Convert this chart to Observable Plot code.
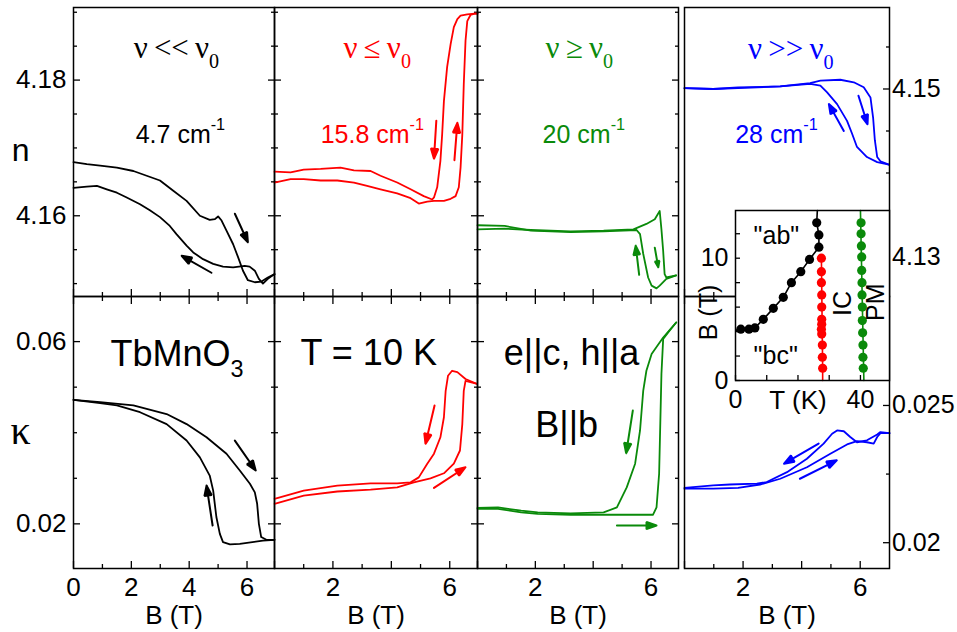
<!DOCTYPE html>
<html><head><meta charset="utf-8">
<script src="https://cdn.jsdelivr.net/npm/d3@7"></script>
<script src="https://cdn.jsdelivr.net/npm/@observablehq/plot@0.6"></script>
<style>
body{margin:0;background:#fff;}
#fig{position:relative;width:957px;height:632px;overflow:hidden;background:#fff;font-family:"Liberation Sans",Arial,sans-serif;}
#fig svg{position:absolute;}
</style></head><body><div id="fig"></div>
<script>
// ---------------- DATA ----------------
// Top row: refractive index n vs B (T); bottom row: extinction kappa vs B (T)
const nBlackUp = [[0,4.1679],[0.46,4.1676],[0.92,4.1674],[1.5,4.1671],[2.07,4.1666],[2.53,4.1659],[2.99,4.1652],[3.45,4.1637],[3.91,4.1622],[4.37,4.16],[4.71,4.1594],[4.89,4.1595],[5.0,4.1599],[5.12,4.1593],[5.29,4.1578],[5.52,4.1558],[5.69,4.1539],[5.86,4.1519],[6.03,4.1505],[6.27,4.1502],[6.5,4.1503],[6.72,4.1509],[6.95,4.1514]];
const nBlackDown = [[0,4.1641],[0.46,4.1643],[0.81,4.1644],[1.15,4.1639],[1.5,4.1634],[1.84,4.1627],[2.3,4.1617],[2.64,4.1608],[2.99,4.1598],[3.33,4.1585],[3.56,4.1573],[3.91,4.1556],[4.14,4.1546],[4.48,4.1536],[4.83,4.1529],[5.17,4.1525],[5.52,4.1524],[5.92,4.1526],[6.09,4.1525],[6.27,4.1519],[6.41,4.1507],[6.55,4.15],[6.72,4.1507],[6.95,4.1514]];
const nRedUp = [[0,4.1649],[0.55,4.1654],[1.0,4.1654],[1.58,4.1652],[2.15,4.1652],[2.72,4.1649],[3.17,4.1644],[3.63,4.1639],[4.2,4.1633],[4.66,4.1626],[4.94,4.1618],[5.23,4.1621],[5.46,4.1622],[5.8,4.1622],[6.03,4.1625],[6.2,4.1629],[6.31,4.1642],[6.37,4.1671],[6.43,4.172],[6.48,4.1794],[6.54,4.1858],[6.6,4.1887],[6.71,4.1896],[6.85,4.1898],[6.95,4.1898]];
const nRedDown = [[6.95,4.1898],[6.85,4.1898],[6.6,4.1897],[6.37,4.1895],[6.26,4.189],[6.14,4.1878],[6.03,4.1853],[5.91,4.1819],[5.8,4.1769],[5.74,4.172],[5.68,4.1681],[5.57,4.1642],[5.46,4.1627],[5.4,4.1624],[5.11,4.1629],[4.66,4.1639],[4.2,4.1649],[3.63,4.1659],[3.29,4.1666],[2.72,4.1667],[2.26,4.1671],[1.58,4.1669],[1.0,4.1668],[0.55,4.1664],[0,4.1665]];
const nGreenUp = [[0,4.158],[0.94,4.1581],[1.85,4.1579],[3.22,4.1577],[4.36,4.1578],[5.39,4.158],[5.84,4.1588],[6.13,4.1595],[6.3,4.1607],[6.36,4.158],[6.42,4.1548],[6.47,4.1514],[6.53,4.1509],[6.87,4.1512]];
const nGreenDown = [[6.87,4.1512],[6.53,4.1507],[6.3,4.1497],[6.19,4.1493],[6.02,4.1497],[5.9,4.1509],[5.73,4.1544],[5.62,4.1573],[5.5,4.1579],[4.36,4.1577],[3.22,4.1576],[1.85,4.1578],[0.94,4.1585],[0,4.1586]];
const nBlueUp = [[0,4.1501],[0.98,4.15],[1.83,4.1502],[3.27,4.1503],[4.29,4.1507],[4.64,4.151],[5.32,4.1511],[5.78,4.1508],[6.12,4.1502],[6.35,4.149],[6.44,4.1466],[6.5,4.1439],[6.58,4.1419],[6.69,4.1414],[6.98,4.141]];
const nBlueDown = [[6.98,4.141],[6.58,4.1413],[6.23,4.1419],[5.89,4.1431],[5.72,4.1447],[5.55,4.1462],[5.21,4.1482],[4.87,4.1496],[4.64,4.1504],[4.29,4.1506],[3.27,4.1503],[1.83,4.1501],[0.98,4.15],[0,4.1501]];

const kBlackUp = [[0,0.0472],[0.92,0.0467],[2.07,0.046],[3.22,0.0441],[3.91,0.0419],[4.6,0.039],[5.29,0.0354],[5.75,0.0317],[6.1,0.0288],[6.27,0.0269],[6.35,0.0244],[6.41,0.02],[6.49,0.0171],[6.67,0.0165],[6.95,0.0165]];
const kBlackDown = [[6.95,0.0165],[6.55,0.0163],[5.75,0.0156],[5.41,0.0155],[5.17,0.016],[5.06,0.0178],[4.94,0.0215],[4.83,0.0273],[4.71,0.0306],[4.37,0.0346],[3.91,0.0383],[3.22,0.0419],[2.3,0.0445],[1.5,0.046],[0.92,0.0465],[0,0.0472]];
const kRedUp = [[0,0.0244],[1.0,0.0262],[2.15,0.0271],[3.29,0.0275],[4.2,0.028],[4.77,0.0291],[5.34,0.03],[5.8,0.0311],[6.14,0.0332],[6.35,0.0361],[6.43,0.0419],[6.48,0.0492],[6.54,0.0514],[6.94,0.0507]];
const kRedDown = [[6.94,0.0507],[6.54,0.0518],[6.26,0.0533],[6.08,0.0536],[5.94,0.0525],[5.86,0.0492],[5.8,0.0434],[5.68,0.039],[5.46,0.0354],[5.23,0.0332],[4.94,0.0302],[4.66,0.0291],[4.2,0.0289],[3.29,0.0289],[2.15,0.0284],[1.0,0.0273],[0,0.0255]];
const kGreenUp = [[0,0.0233],[0.71,0.0233],[1.51,0.0225],[2.08,0.0222],[3.22,0.022],[4.36,0.022],[5.5,0.022],[6.07,0.022],[6.19,0.0236],[6.28,0.031],[6.32,0.0419],[6.36,0.0529],[6.42,0.0606],[6.64,0.0624],[6.87,0.0642]];
const kGreenDown = [[6.87,0.0642],[6.42,0.0609],[6.02,0.0573],[5.84,0.0536],[5.73,0.0492],[5.62,0.0405],[5.45,0.0332],[5.16,0.028],[4.82,0.0236],[4.36,0.0225],[3.22,0.0223],[2.08,0.0225],[1.51,0.0229],[0.71,0.0236],[0,0.0235]];
const kBlueDown = [[7.0,0.02399],[6.69,0.02403],[6.58,0.02394],[6.23,0.02373],[5.89,0.02366],[5.66,0.02385],[5.44,0.02406],[5.21,0.02409],[5.04,0.02397],[4.75,0.02361],[4.18,0.02306],[3.5,0.02257],[2.81,0.02221],[2.47,0.02215],[1.55,0.02212],[0.98,0.02209],[0,0.022]];
const kBlueUp = [[0,0.02197],[0.98,0.02197],[1.83,0.022],[2.58,0.02212],[3.27,0.02233],[4.18,0.02275],[4.98,0.02324],[5.55,0.02358],[5.89,0.0237],[6.23,0.02366],[6.46,0.02361],[6.58,0.02385],[6.69,0.02399],[7.0,0.02399]];

// sweep-direction arrows [B1, v1, B2, v2]
const arrowsNBlack = [[5.58,4.1603,6.03,4.1561],[4.77,4.1516,3.74,4.1541]];
const arrowsNRed = [[5.54,4.174,5.46,4.1684],[6.16,4.1682,6.26,4.1737]];
const arrowsNGreen = [[5.59,4.1513,5.47,4.1556],[6.13,4.1553,6.25,4.1524]];
const arrowsNBlue = [[5.44,4.145,4.93,4.1482],[5.94,4.1492,6.25,4.1458]];
const arrowsKBlack = [[5.58,0.03828,6.3,0.0317],[4.81,0.01964,4.6,0.0284]];
const arrowsKRed = [[5.48,0.04596,5.17,0.03756],[5.46,0.0279,6.54,0.03243]];
const arrowsKGreen = [[5.37,0.04486,5.14,0.0355],[4.82,0.01963,6.19,0.01963]];
const arrowsKBlue = [[4.58,0.02361,3.4,0.02288],[3.94,0.02233,5.2,0.023]];

// inset phase diagram (T in K, B in T)
const phaseBlackT = [1.7,4.3,6.2,8.9,12.1,15.3,17.9,20.9,23.7,26.7,26.7,26.0];
const phaseBlackB = [4.2,4.2,4.3,5.0,5.9,6.8,8.0,8.9,9.9,10.9,11.9,12.9];
const phaseBlackLineT = [0.3,1.7,4.3,6.2,8.9,12.1,15.3,17.9,20.9,23.7,26.7,26.7,26.0,26.2];
const phaseBlackLineB = [4.1,4.2,4.2,4.3,5.0,5.9,6.8,8.0,8.9,9.9,10.9,11.9,12.9,13.9];
const phaseRedT = [27.9,27.8,27.8,27.6,27.5,27.6,27.6,27.6,27.6,27.5,27.5,27.5];
const phaseRedB = [1.0,1.9,2.9,3.8,4.2,4.6,5.0,6.0,7.0,8.0,8.9,10.0];
const phaseRedLineT = [27.9,27.9,27.5];
const phaseRedLineB = [0,1.0,10.0];
const phaseGreenT = [40.9,40.8,40.8,40.7,40.6,40.6,40.5,40.5,40.4,40.4,40.3,40.2,40.2];
const phaseGreenB = [1.0,1.9,2.9,3.9,4.9,6.0,7.0,8.0,9.0,10.1,11.0,12.0,12.9];
const phaseGreenLineT = [41.1,40.0];
const phaseGreenLineB = [0,13.9];

// tick values & labels
const bTicksMajor = [0,2,4,6], bTicksMinor = [1,3,5];
const bLabelsFirst = [0,2,4,6], bLabelsOther = [2,6];
const nTicksMajor = [4.16,4.18], nTicksMinor = [4.15,4.155,4.165,4.17,4.175,4.185,4.19];
const n4TicksMajor = [4.13,4.15], n4TicksMinor = [4.135,4.14,4.145,4.155];
const kTicksMajor = [0.02,0.06], kTicksMinor = [0.03,0.04,0.05];
const k4TicksMajor = [0.02,0.025], k4TicksMinor = [0.0225,0.0275];
const insetTTicks = [0,10,20,30,40], insetTLabels = [0,40];
const insetBTicks = [0,2,4,6,8,10,12], insetBLabels = [0,10];

const freqLabels = ["ν\u2009<<\u2009ν_0", "ν\u2009≤\u2009ν_0", "ν\u2009≥\u2009ν_0", "ν\u2009>>\u2009ν_0"];
const waveLabels = ["4.7 cm^-1", "15.8 cm^-1", "20 cm^-1", "28 cm^-1"];
const sampleLabels = ["TbMnO_3", "T = 10 K", "e||c, h||a", "B||b"];
const phaseLabels = ['"ab"', '"bc"', "IC", "PM"];

// ---------------- RENDER ----------------
const SANS = '"Liberation Sans", Arial, sans-serif';
const SERIF = '"Liberation Serif", "Times New Roman", serif';
const RED = "#ff0000", GREEN = "#0a8a0a", BLUE = "#0000ff", BLACK = "#000000";
const fig = document.getElementById("fig");

const cols = [
  {x: 73, w: 201, xd: [0, 6.95], lab: bLabelsFirst},
  {x: 274, w: 203, xd: [0, 6.95], lab: bLabelsOther},
  {x: 477, w: 201, xd: [0, 6.95], lab: bLabelsOther},
  {x: 684, w: 205, xd: [0, 7.0], lab: bLabelsOther}
];
const rows = [{y: 7, h: 289}, {y: 296, h: 272}];
const fmt = d => String(d);
const TICKFONT = 26;

function richify(svg) {
  svg.querySelectorAll("text").forEach(t => {
    const s = t.textContent;
    if (!/[_^]/.test(s)) return;
    while (t.firstChild) t.removeChild(t.firstChild);
    const parts = s.split(/([_^][^_^\s]+)/).filter(Boolean);
    let prev = 0;
    for (const p of parts) {
      const ts = document.createElementNS("http://www.w3.org/2000/svg", "tspan");
      if (p[0] === "^" || p[0] === "_") {
        const shift = p[0] === "^" ? -0.5 : 0.32;
        ts.setAttribute("font-size", "65%");
        ts.setAttribute("dy", ((shift - prev) / 0.65).toFixed(3) + "em");
        prev = shift;
        ts.textContent = p.slice(1);
      } else {
        if (prev !== 0) ts.setAttribute("dy", (-prev).toFixed(3) + "em");
        prev = 0;
        ts.textContent = p;
      }
      t.appendChild(ts);
    }
  });
}
// turn the open arrow heads of Plot.arrow into filled triangles
function fillArrowHeads(svg) {
  svg.querySelectorAll('g[aria-label="arrow"]').forEach(g => {
    const col = g.getAttribute("stroke");
    g.querySelectorAll("path").forEach(p => {
      p.setAttribute("d", p.getAttribute("d") + "Z");
      p.setAttribute("fill", p.getAttribute("stroke") || col);
      p.setAttribute("stroke-linejoin", "miter");
    });
  });
}

function yTicks(anchor, major, minor, labels, pad, size = TICKFONT) {
  return [
    Plot.axisY({anchor, ticks: minor, tickSize: -4, tickFormat: () => "", label: null, strokeWidth: 1.3}),
    Plot.axisY({anchor, ticks: major, tickSize: -7, tickPadding: pad, tickFormat: d => (labels && labels.includes(d)) ? fmt(d) : "", label: null, fontSize: size, strokeWidth: 1.3})
  ];
}
function xTicks(anchor, major, minor, labels, pad) {
  return [
    Plot.axisX({anchor, ticks: minor, tickSize: -4, tickFormat: () => "", label: null, strokeWidth: 1.3}),
    Plot.axisX({anchor, ticks: major, tickSize: -7, tickPadding: pad, tickFormat: d => (labels && labels.includes(d)) ? fmt(d) : "", label: null, fontSize: TICKFONT, strokeWidth: 1.3})
  ];
}
function txt(s, x, y, o = {}) {
  return Plot.text([s], {x: () => x, y: () => y, text: d => d, fill: o.fill || BLACK, fontSize: o.size || 25,
    fontFamily: o.family || SANS, textAnchor: o.anchor || "start", lineAnchor: o.line || "bottom", rotate: o.rotate || 0});
}

function panel(p) {
  const c = cols[p.col], r = rows[p.row];
  const marks = [];
  if (p.col < 3) {
    marks.push(...yTicks("left", p.yMajor, p.yMinor, p.col === 0 ? p.yMajor : null, 14));
    marks.push(...yTicks("right", p.yMajor, p.yMinor, null, 14));
  } else {
    marks.push(...yTicks("right", p.yMajor, p.yMinor, p.yMajor, 9.5, 25));
  }
  if (p.row === 0) {
    marks.push(...xTicks("bottom", bTicksMajor, bTicksMinor, null, 17));
  } else {
    marks.push(...xTicks("top", bTicksMajor, bTicksMinor, null, 17));
    marks.push(...xTicks("bottom", bTicksMajor, bTicksMinor, c.lab, 16));
    marks.push(Plot.text(["B (T)"], {frameAnchor: "bottom", dy: 47, text: d => d, fontSize: 26, fontFamily: SANS, fill: BLACK, lineAnchor: "middle"}));
  }
  for (const s of p.series) {
    marks.push(Plot.line(s, {x: d => d[0], y: d => d[1], stroke: p.color, strokeWidth: 1.8, strokeLinejoin: "round"}));
  }
  marks.push(Plot.arrow(p.arrows, {x1: d => d[0], y1: d => d[1], x2: d => d[2], y2: d => d[3], stroke: p.color, strokeWidth: 2, headLength: 8, headAngle: 40}));
  for (const t of p.texts) marks.push(t);
  marks.push(Plot.frame({stroke: BLACK, strokeWidth: 1.5}));
  const svg = Plot.plot({
    width: c.w, height: r.h, margin: 0,
    x: {domain: c.xd}, y: {domain: p.yd},
    style: `background: transparent; overflow: visible; font-family: ${SANS}; color: black;`,
    marks
  });
  richify(svg);
  fillArrowHeads(svg);
  svg.style.left = c.x + "px"; svg.style.top = r.y + "px";
  fig.appendChild(svg);
}

const ydN = [4.1481, 4.1907], ydN4 = [4.1253, 4.1597], ydK = [0.0102, 0.0699], ydK4 = [0.01906, 0.02897];
const FREQ = {size: 31, family: SERIF};

// top row
panel({col: 0, row: 0, yd: ydN, yMajor: nTicksMajor, yMinor: nTicksMinor, color: BLACK,
  series: [nBlackUp, nBlackDown], arrows: arrowsNBlack,
  texts: [
    txt(freqLabels[0], 2.08, 4.1833, FREQ),
    txt(waveLabels[0], 2.15, 4.1708, {size: 25}),
    txt("n", -1.83, 4.1681, {size: 32, anchor: "middle"})
  ]});
panel({col: 1, row: 0, yd: ydN, yMajor: nTicksMajor, yMinor: nTicksMinor, color: RED,
  series: [nRedUp, nRedDown], arrows: arrowsNRed,
  texts: [
    txt(freqLabels[1], 2.36, 4.1833, {...FREQ, fill: RED}),
    txt(waveLabels[1], 1.58, 4.1708, {size: 25, fill: RED})
  ]});
panel({col: 2, row: 0, yd: ydN, yMajor: nTicksMajor, yMinor: nTicksMinor, color: GREEN,
  series: [nGreenUp, nGreenDown], arrows: arrowsNGreen,
  texts: [
    txt(freqLabels[2], 2.35, 4.1833, {...FREQ, fill: GREEN}),
    txt(waveLabels[2], 2.25, 4.1708, {size: 25, fill: GREEN})
  ]});
panel({col: 3, row: 0, yd: ydN4, yMajor: n4TicksMajor, yMinor: n4TicksMinor, color: BLUE,
  series: [nBlueUp, nBlueDown], arrows: arrowsNBlue,
  texts: [
    txt(freqLabels[3], 2.17, 4.1536, {...FREQ, fill: BLUE}),
    txt(waveLabels[3], 1.73, 4.1436, {size: 25, fill: BLUE})
  ]});
// bottom row
panel({col: 0, row: 1, yd: ydK, yMajor: kTicksMajor, yMinor: kTicksMinor, color: BLACK,
  series: [kBlackUp, kBlackDown], arrows: arrowsKBlack,
  texts: [
    txt(sampleLabels[0], 1.28, 0.0547, {size: 36}),
    txt("κ", -1.83, 0.03755, {size: 40, family: SERIF, anchor: "middle"})
  ]});
panel({col: 1, row: 1, yd: ydK, yMajor: kTicksMajor, yMinor: kTicksMinor, color: RED,
  series: [kRedUp, kRedDown], arrows: arrowsKRed,
  texts: [txt(sampleLabels[1], 0.89, 0.05495, {size: 36})]});
panel({col: 2, row: 1, yd: ydK, yMajor: kTicksMajor, yMinor: kTicksMinor, color: GREEN,
  series: [kGreenUp, kGreenDown], arrows: arrowsKGreen,
  texts: [txt(sampleLabels[2], 0.91, 0.05495, {size: 36}), txt(sampleLabels[3], 2.0, 0.039, {size: 36})]});
panel({col: 3, row: 1, yd: ydK4, yMajor: k4TicksMajor, yMinor: k4TicksMinor, color: BLUE,
  series: [kBlueUp, kBlueDown], arrows: arrowsKBlue, texts: []});

// inset phase diagram
(function inset() {
  const blackPts = phaseBlackT.map((t, i) => [t, phaseBlackB[i]]);
  const redPts = phaseRedT.map((t, i) => [t, phaseRedB[i]]);
  const greenPts = phaseGreenT.map((t, i) => [t, phaseGreenB[i]]);
  const bl = phaseBlackLineT.map((t, i) => [t, phaseBlackLineB[i]]);
  const rl = phaseRedLineT.map((t, i) => [t, phaseRedLineB[i]]);
  const gl = phaseGreenLineT.map((t, i) => [t, phaseGreenLineB[i]]);
  const L = (d, color) => Plot.line(d, {x: d => d[0], y: d => d[1], stroke: color, strokeWidth: 1.6});
  const D = (d, color) => Plot.dot(d, {x: d => d[0], y: d => d[1], fill: color, r: 4.6, stroke: null});
  const marks = [
    Plot.frame({fill: "white", stroke: null}),
    Plot.axisY({anchor: "left", ticks: insetBTicks, tickSize: -5, tickPadding: 12, tickFormat: d => insetBLabels.includes(d) ? fmt(d) : "", label: null, fontSize: 25, strokeWidth: 1.3}),
    Plot.axisX({anchor: "bottom", ticks: insetTTicks, tickSize: -5, tickPadding: 15, tickFormat: d => insetTLabels.includes(d) ? fmt(d) : "", label: null, fontSize: 25, strokeWidth: 1.3}),
    L(bl, BLACK), L(rl, RED), L(gl, GREEN),
    D(blackPts, BLACK), D(redPts, RED), D(greenPts, GREEN),
    txt(phaseLabels[0], 5.8, 11.18, {size: 25}),
    txt(phaseLabels[1], 5.8, 1.37, {size: 25}),
    txt(phaseLabels[2], 34.3, 6.3, {size: 25, anchor: "middle", line: "middle", rotate: -90}),
    txt(phaseLabels[3], 45.1, 6.4, {size: 25, anchor: "middle", line: "middle", rotate: -90}),
    txt("B (T)", -8.6, 5.56, {size: 25, anchor: "middle", line: "middle", rotate: -90}),
    txt("T (K)", 20, -2.29, {size: 26, anchor: "middle"}),
    Plot.frame({stroke: BLACK, strokeWidth: 1.5})
  ];
  const svg = Plot.plot({
    width: 154, height: 170, margin: 0,
    x: {domain: [0, 49.3]}, y: {domain: [0, 13.9]},
    style: `background: transparent; overflow: visible; font-family: ${SANS}; color: black;`,
    marks
  });
  svg.style.left = "735px"; svg.style.top = "210px";
  fig.appendChild(svg);
})();
</script></body></html>
